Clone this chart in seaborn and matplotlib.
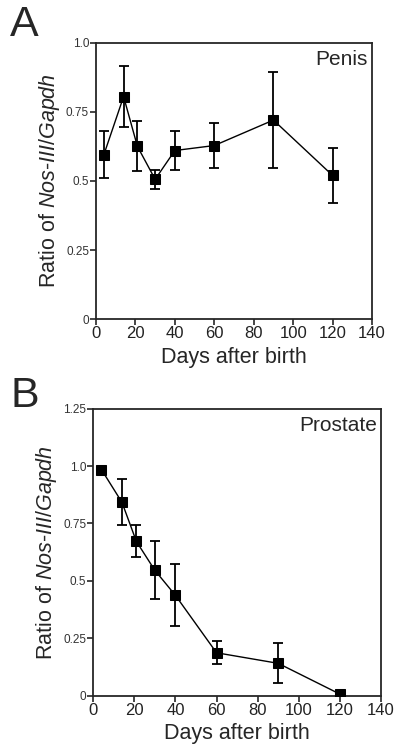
import matplotlib
matplotlib.use("Agg")
import matplotlib.pyplot as plt
import numpy as np
import pandas as pd
import seaborn as sns

sns.set_style("ticks")
plt.rcParams['font.family'] = ['Liberation Sans', 'DejaVu Sans']
plt.rcParams['mathtext.fontset'] = 'custom'
plt.rcParams['mathtext.rm'] = 'Liberation Sans'
plt.rcParams['mathtext.it'] = 'Liberation Sans:italic'

# Data
days = [4, 14, 21, 30, 40, 60, 90, 120]

penis_mean = [0.595, 0.805, 0.625, 0.506, 0.61, 0.628, 0.72, 0.52]
penis_err = [0.085, 0.11, 0.09, 0.035, 0.07, 0.082, 0.174, 0.10]

prostate_mean = [0.985, 0.842, 0.672, 0.546, 0.437, 0.187, 0.141, 0.007]
prostate_err = [0.0, 0.10, 0.07, 0.127, 0.135, 0.05, 0.087, 0.0]

x_ticks = [0, 20, 40, 60, 80, 100, 120, 140]
yticks_a = [0, 0.25, 0.5, 0.75, 1.0]
ytick_labels_a = ['0', '0.25', '0.5', '0.75', '1.0']
yticks_b = [0, 0.25, 0.5, 0.75, 1.0, 1.25]
ytick_labels_b = ['0', '0.25', '0.5', '0.75', '1.0', '1.25']

ylabel = r'Ratio of $\it{Nos}$-$\it{III/Gapdh}$'

fig = plt.figure(figsize=(4.0, 7.54), dpi=100)


def draw_panel(ax, mean, err, yticks, ylabels, tissue, letter, letter_y):
    df = pd.DataFrame({'Days': days, 'Ratio': mean})
    ax.errorbar(days, mean, yerr=err, fmt='none', ecolor='black',
                elinewidth=1.3, capsize=3.6, capthick=1.3, zorder=2)
    sns.lineplot(data=df, x='Days', y='Ratio', ax=ax, color='black',
                 linewidth=1.0, marker='s', markersize=7.5, markeredgecolor='black',
                 markerfacecolor='black', zorder=3)
    ax.set_xlim(0, 140)
    ax.set_ylim(0, yticks[-1])
    ax.set_xticks(x_ticks)
    ax.set_xticklabels([str(t) for t in x_ticks], fontsize=12, color='#222222')
    ax.set_yticks(yticks)
    ax.set_yticklabels(ylabels, fontsize=8.5, color='#333333')
    ax.tick_params(axis='both', direction='out', length=4, width=1.2)
    ax.tick_params(axis='x', pad=1)
    ax.tick_params(axis='y', pad=1)
    for s in ax.spines.values():
        s.set_linewidth(1.3)
        s.set_visible(True)
    ax.set_xlabel('Days after birth', fontsize=15.5, labelpad=4)
    ax.set_ylabel(ylabel, fontsize=15.5, labelpad=3)
    ax.text(0.985, 0.975, tissue, transform=ax.transAxes, ha='right', va='top',
            fontsize=15)
    fig.text(0.025, letter_y, letter, fontsize=31, ha='left', va='top')


ax_a = fig.add_axes([0.24, 0.5765, 0.69, 0.367])
draw_panel(ax_a, penis_mean, penis_err, yticks_a, ytick_labels_a, 'Penis', 'A',
           1 - 5 / 754)

ax_b = fig.add_axes([0.233, 0.0773, 0.7195, 0.3807])
draw_panel(ax_b, prostate_mean, prostate_err, yticks_b, ytick_labels_b, 'Prostate', 'B',
           1 - 376 / 754)

fig.savefig('out.png', dpi=100)
